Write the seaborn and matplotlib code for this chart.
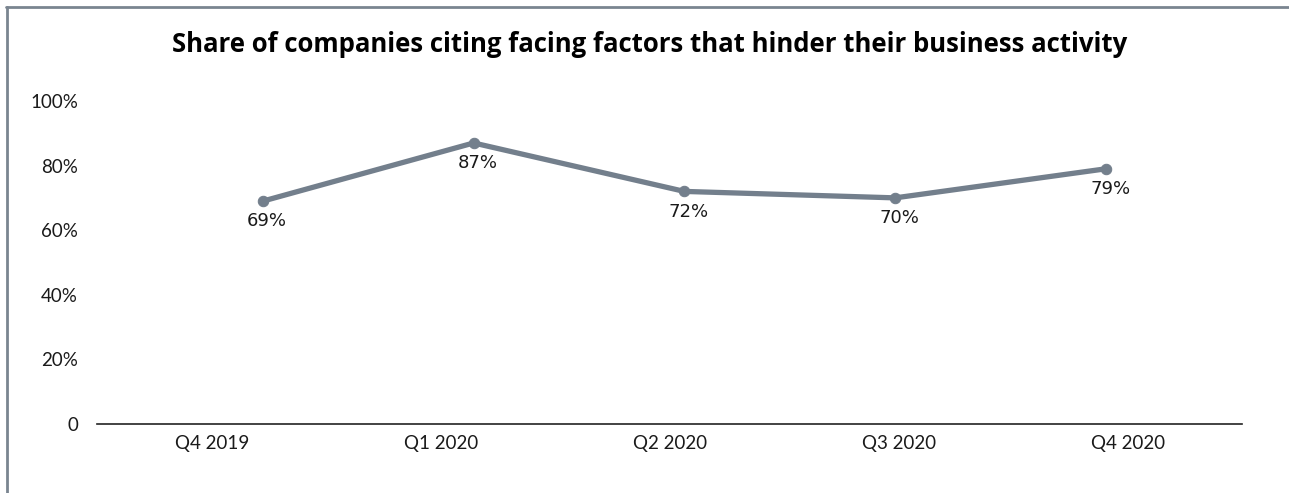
import matplotlib
matplotlib.use("Agg")
import matplotlib.pyplot as plt
from matplotlib.lines import Line2D
import seaborn as sns
import pandas as pd

# Survey results by quarter
quarters = ["Q4 2019", "Q1 2020", "Q2 2020", "Q3 2020", "Q4 2020"]
share = [69, 87, 72, 70, 79]
y_ticks = [0, 20, 40, 60, 80, 100]
y_tick_labels = ["0", "20%", "40%", "60%", "80%", "100%"]
title = "Share of companies citing facing factors that hinder their business activity"

line_color = "#737f8c"
frame_color = "#7a8590"

sns.set_theme(style="white")
plt.rcParams["font.family"] = ["Lato", "DejaVu Sans"]

df = pd.DataFrame({"quarter": quarters, "share": share, "pos": range(len(quarters))})

fig = plt.figure(figsize=(12.89, 4.93), dpi=100)
ax = fig.add_axes([0.0756, 0.14, 0.8883, 0.6552])

# Category axis
ax.set_xlim(-0.5, len(quarters) - 0.5)
ax.set_xticks(range(len(quarters)))
ax.set_xticklabels(quarters, fontsize=13.5, color="#1a1a1a")
ax.set_ylim(0, 100)
ax.set_yticks(y_ticks)
ax.set_yticklabels(y_tick_labels, fontsize=13.5, color="#1a1a1a")
ax.tick_params(axis="both", length=0)
ax.tick_params(axis="y", pad=14)
ax.tick_params(axis="x", pad=8)
for side in ["left", "right", "top"]:
    ax.spines[side].set_visible(False)
ax.spines["bottom"].set_color("#222222")
ax.spines["bottom"].set_linewidth(1.2)

# Line series sits on its own horizontal scale, shared y
ax2 = ax.twiny()
sns.lineplot(data=df, x="pos", y="share", ax=ax2, color=line_color,
             linewidth=3.8, marker="o", markersize=7.5,
             markeredgecolor=line_color, markerfacecolor=line_color)
ax2.set_ylim(0, 100)
ax2.set_xlim(-0.785, len(quarters) - 1 + 0.648)
ax2.axis("off")
for xi, v in zip(df["pos"], df["share"]):
    ax2.annotate(f"{v}%", (xi, v), xytext=(3, -8), textcoords="offset points",
                 ha="center", va="top", fontsize=13, color="#1a1a1a",
                 family="DejaVu Sans")

fig.text(0.504, 0.909, title, ha="center", va="center", fontsize=18.5,
         fontweight="bold", family=["Open Sans", "DejaVu Sans"], color="#000000")

# Frame lines along the left and top edges
fig.add_artist(Line2D([0.0055, 0.0055], [0, 0.986], transform=fig.transFigure,
                      color=frame_color, linewidth=2))
fig.add_artist(Line2D([0.0047, 1.0], [0.986, 0.986], transform=fig.transFigure,
                      color=frame_color, linewidth=2))

fig.savefig("out.png", dpi=100)
